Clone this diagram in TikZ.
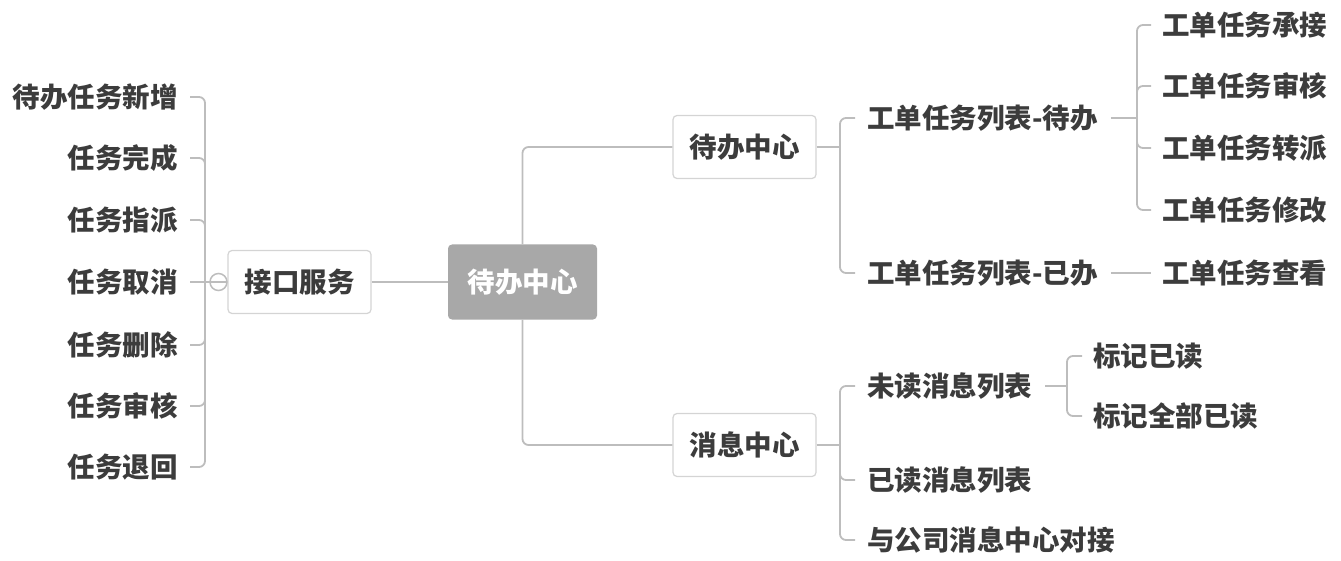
\documentclass[tikz,border=0pt]{standalone}
\usepackage{fontspec}
\setmainfont{Noto Sans CJK SC}
\definecolor{txtc}{HTML}{3C3C3C}
\definecolor{linec}{HTML}{BDBDBD}
\definecolor{boxc}{HTML}{D4D4D4}
\definecolor{rootc}{HTML}{A8A8A8}
\begin{document}
\begin{tikzpicture}[x=1pt,y=-1pt,
  txt/.style={inner sep=0pt, text height=23pt, text depth=2pt, font=\fontsize{27.5}{30}\selectfont\bfseries, text=txtc},
  box/.style={txt, draw=boxc, line width=1.2pt, rounded corners=4pt, minimum width=143pt, minimum height=63pt, fill=white},
  rootbox/.style={txt, fill=rootc, text=white, rounded corners=4pt, minimum width=149pt, minimum height=75pt},
  knobc/.style={circle, draw=linec, line width=1.5pt, minimum size=17pt, inner sep=0pt},
  ln/.style={draw=linec, line width=1.8pt},
  br/.style={ln, rounded corners=6pt}]
\useasboundingbox (0,0) rectangle (1341,561);

% main nodes
\node[rootbox] (root) at (522.5,282) {待办中心};
\node[box] (iface) at (299.5,282) {接口服务};
\node[knobc] (knob) at (218.5,282) {};
\node[box] (todo) at (744.5,147) {待办中心};
\node[box] (msg) at (744.5,445) {消息中心};

% left leaves
\node[txt, anchor=east] (a1) at (178,97) {待办任务新增};
\node[txt, anchor=east] (a2) at (178,158) {任务完成};
\node[txt, anchor=east] (a3) at (178,220) {任务指派};
\node[txt, anchor=east] (a4) at (178,282) {任务取消};
\node[txt, anchor=east] (a5) at (178,345) {任务删除};
\node[txt, anchor=east] (a6) at (178,406) {任务审核};
\node[txt, anchor=east] (a7) at (178,467) {任务退回};
\coordinate (jl) at (205,282);
\foreach \n in {a1,a2,a3,a5,a6,a7}
  \draw[br] ([xshift=12pt]\n.east) -| (jl);
\draw[ln] ([xshift=12pt]a4.east) -- (jl);
\draw[ln] (jl) -- (iface.west);
\draw[ln] (iface.east) -- (root.west);
\draw[br] (root.north) |- (todo.west);
\draw[br] (root.south) |- (msg.west);

% todo group
\coordinate (j1) at (840,147);
\draw[ln] (todo.east) -- (j1);
\node[txt, anchor=west] (b1) at (867,118) {工单任务列表-待办};
\node[txt, anchor=west] (b2) at (867,273) {工单任务列表-已办};
\draw[br] ([xshift=-12pt]b1.west) -| (j1);
\draw[br] ([xshift=-12pt]b2.west) -| (j1);

\coordinate (j2) at (1137,118);
\draw[ln] ([xshift=13pt]b1.east) -- (j2);
\node[txt, anchor=west] (c1) at (1162,25) {工单任务承接};
\node[txt, anchor=west] (c2) at (1162,86) {工单任务审核};
\node[txt, anchor=west] (c3) at (1162,148) {工单任务转派};
\node[txt, anchor=west] (c4) at (1162,210) {工单任务修改};
\node[txt, anchor=west] (c5) at (1162,273) {工单任务查看};
\foreach \n in {c1,c2,c3,c4}
  \draw[br] ([xshift=-11pt]\n.west) -| (j2);
\draw[ln] ([xshift=13pt]b2.east) -- ([xshift=-11pt]c5.west);

% message group
\coordinate (j3) at (840,445);
\draw[ln] (msg.east) -- (j3);
\node[txt, anchor=west] (d1) at (867,386) {未读消息列表};
\node[txt, anchor=west] (d2) at (867,480) {已读消息列表};
\node[txt, anchor=west] (d3) at (867,540) {与公司消息中心对接};
\foreach \n in {d1,d2,d3}
  \draw[br] ([xshift=-12pt]\n.west) -| (j3);

\coordinate (j4) at (1067,386);
\draw[ln] ([xshift=13pt]d1.east) -- (j4);
\node[txt, anchor=west] (e1) at (1093,356) {标记已读};
\node[txt, anchor=west] (e2) at (1093,416) {标记全部已读};
\foreach \n in {e1,e2}
  \draw[br] ([xshift=-11pt]\n.west) -| (j4);
\end{tikzpicture}
\end{document}
